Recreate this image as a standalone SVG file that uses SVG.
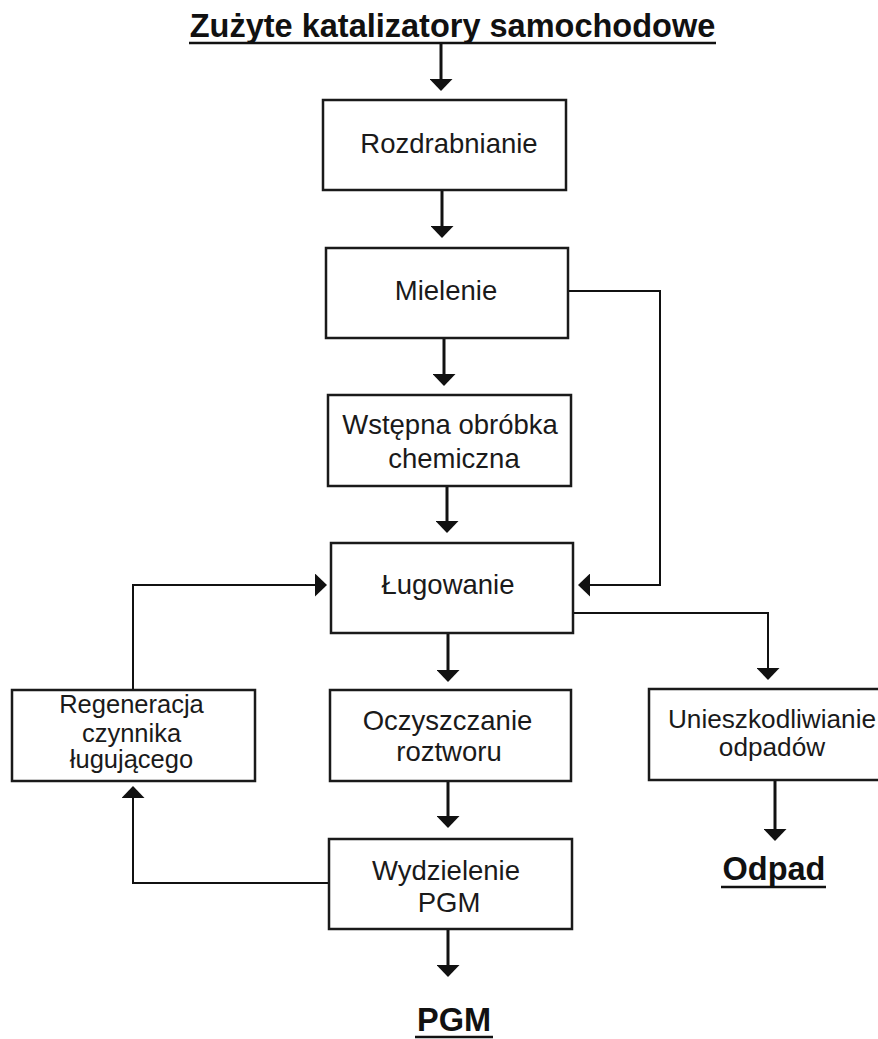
<svg xmlns="http://www.w3.org/2000/svg" width="878" height="1039" viewBox="0 0 878 1039">
<style>
.box{fill:#fff;stroke:#1a1a1a;stroke-width:2.5}
.t{font-family:"Liberation Sans",Arial,sans-serif;font-size:27.5px;fill:#1a1a1a;text-anchor:middle}
.s{font-size:25.5px}
.u{font-size:26.2px}
.h{font-family:"Liberation Sans",Arial,sans-serif;font-size:32.5px;font-weight:bold;fill:#111;text-anchor:middle}
.ul{stroke:#111;stroke-width:2.5}
.a{fill:none;stroke:#111;stroke-width:3}
.c{fill:none;stroke:#111;stroke-width:2}
</style>
<defs>
<marker id="ah" viewBox="0 0 12 23" refX="1" refY="11.5" markerWidth="12" markerHeight="23" markerUnits="userSpaceOnUse" orient="auto">
<path d="M0,0 L12,11.5 L0,23 z" fill="#111"/>
</marker>
</defs>
<g id="connectors">
<path class="a" d="M441,44 V80" marker-end="url(#ah)"/>
<path class="a" d="M442,191 V227" marker-end="url(#ah)"/>
<path class="a" d="M444,339 V375" marker-end="url(#ah)"/>
<path class="a" d="M447,487 V522" marker-end="url(#ah)"/>
<path class="a" d="M448,634 V671" marker-end="url(#ah)"/>
<path class="a" d="M448,782 V817" marker-end="url(#ah)"/>
<path class="a" d="M448,930 V966" marker-end="url(#ah)"/>
<path class="a" d="M775,781 V830" marker-end="url(#ah)"/>
<path class="c" d="M568,291 H660 V585 H589" marker-end="url(#ah)"/>
<path class="c" d="M329,883 H133 V797" marker-end="url(#ah)"/>
<path class="c" d="M133,690 V585 H316" marker-end="url(#ah)"/>
<path class="c" d="M573,613 H768 V669" marker-end="url(#ah)"/>
</g>
<g id="title"><text class="h" x="452.5" y="37">Zużyte katalizatory samochodowe</text><line class="ul" x1="189" y1="43" x2="716" y2="43"/></g>
<g id="rozdrabnianie"><rect class="box" x="323" y="100" width="243" height="90"/><text class="t" x="449" y="153">Rozdrabnianie</text></g>
<g id="mielenie"><rect class="box" x="326" y="248" width="242" height="90"/><text class="t" x="446" y="300">Mielenie</text></g>
<g id="wstepna"><rect class="box" x="328" y="395" width="243" height="91"/><text class="t" x="450" y="434">Wstępna obróbka</text><text class="t" x="454" y="468">chemiczna</text></g>
<g id="lugowanie"><rect class="box" x="331" y="543" width="242" height="90"/><text class="t" x="448" y="594">Ługowanie</text></g>
<g id="regeneracja"><rect class="box" x="12" y="690" width="243" height="91"/><text class="t s" x="131.5" y="713">Regeneracja</text><text class="t s" x="131.5" y="742">czynnika</text><text class="t s" x="131.5" y="768">ługującego</text></g>
<g id="oczyszczanie"><rect class="box" x="330" y="690" width="241" height="91"/><text class="t" x="447.5" y="730">Oczyszczanie</text><text class="t" x="449" y="761">roztworu</text></g>
<g id="unieszkodliwianie"><rect class="box" x="649" y="689" width="240" height="91"/><text class="t u" x="772" y="728">Unieszkodliwianie</text><text class="t u" x="772" y="756">odpadów</text></g>
<g id="wydzielenie"><rect class="box" x="329" y="839" width="243" height="90"/><text class="t" x="446" y="880">Wydzielenie</text><text class="t" x="449" y="912">PGM</text></g>
<g id="odpad"><text class="h" x="774" y="880">Odpad</text><line class="ul" x1="721" y1="887" x2="826" y2="887"/></g>
<g id="pgm"><text class="h" x="454" y="1031">PGM</text><line class="ul" x1="415" y1="1037" x2="493" y2="1037"/></g>
</svg>
